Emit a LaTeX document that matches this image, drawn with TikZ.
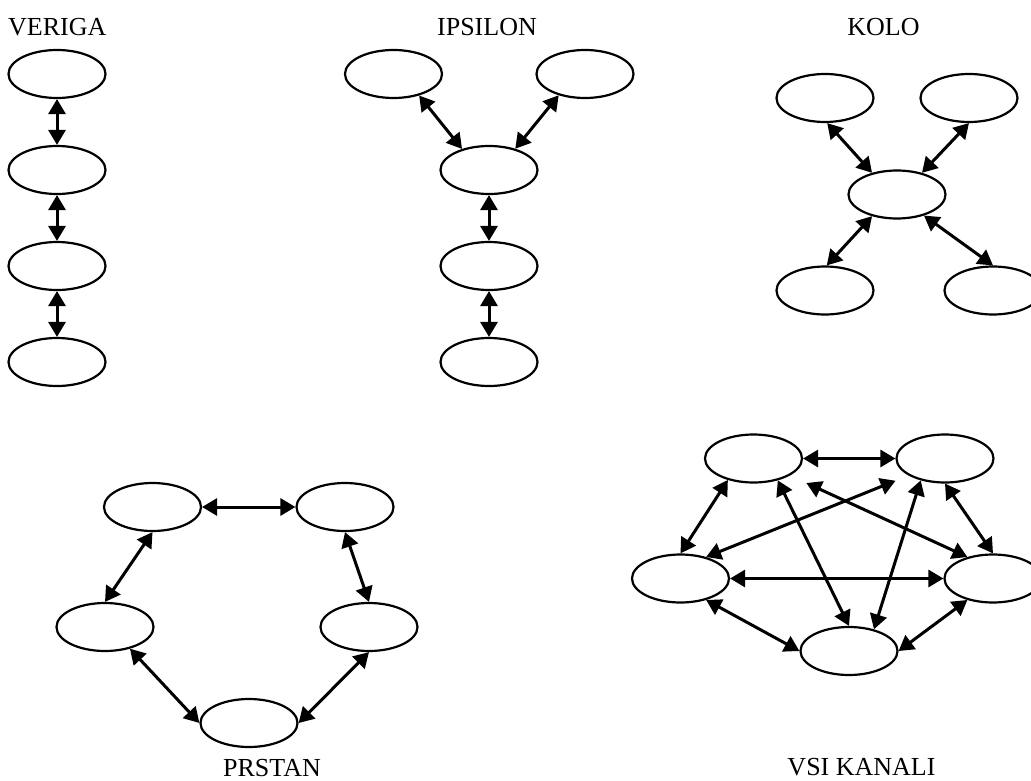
\documentclass[tikz,border=0pt]{standalone}
\usepackage{fontspec}
\setmainfont{Liberation Serif}
\usetikzlibrary{arrows.meta,shapes.geometric}
\tikzset{
  el/.style={draw, line width=2.2pt, ellipse, minimum width=97pt, minimum height=48pt, inner sep=0pt},
  arr/.style={line width=3pt, {Triangle[length=15pt,width=17pt]}-{Triangle[length=15pt,width=17pt]}},
  lbl/.style={inner sep=0pt, font=\fontsize{26}{30}\selectfont}
}
\begin{document}
\begin{tikzpicture}[x=1pt,y=-1pt]
\useasboundingbox (0,0) rectangle (1031,781);
\fill[white] (0,0) rectangle (1031,781);
\clip (0,0) rectangle (1031,781);

% labels
\node[lbl, anchor=base west] (tv) at (8,36) {VERIGA};
\node[lbl, anchor=base] (ti) at (487,36) {IPSILON};
\node[lbl, anchor=base] (tk) at (883.5,36) {KOLO};
\node[lbl, anchor=base] (tp) at (272,776) {PRSTAN};
\node[lbl, anchor=base] (ts) at (861.5,775.5) {VSI KANALI};

% VERIGA
\node[el] (v1) at (57,74) {};
\node[el] (v2) at (57,170) {};
\node[el] (v3) at (57,266) {};
\node[el] (v4) at (57,362) {};
\draw[arr] (v1.south) -- (v2.north);
\draw[arr] (v2.south) -- (v3.north);
\draw[arr] (v3.south) -- (v4.north);

% IPSILON
\node[el] (i1) at (393.5,74) {};
\node[el] (i2) at (585,74) {};
\node[el] (i3) at (489,170) {};
\node[el] (i4) at (489,266) {};
\node[el] (i5) at (489,362) {};
\draw[arr] (i1.320.6) -- (i3.142);
\draw[arr] (i2.219.4) -- (i3.39.4);
\draw[arr] (i3.south) -- (i4.north);
\draw[arr] (i4.south) -- (i5.north);

% KOLO
\node[el] (k1) at (825,98) {};
\node[el] (k2) at (969,98) {};
\node[el] (k3) at (897,194.5) {};
\node[el] (k4) at (825,290.5) {};
\node[el] (k5) at (993,290.5) {};
\draw[arr] (k1.275) -- (k3.139);
\draw[arr] (k2.south) -- (k3.41);
\draw[arr] (k3.221) -- (k4.86);
\draw[arr] (k3.322) -- (k5.north);

% PRSTAN
\node[el] (p1) at (152.5,507) {};
\node[el] (p2) at (345,507) {};
\node[el] (p3) at (105,627) {};
\node[el] (p4) at (369,627) {};
\node[el] (p5) at (249,723) {};
\draw[arr] (p1.east) -- (p2.west);
\draw[arr] (p1.south) -- (p3.north);
\draw[arr] (p2.south) -- (p4.north);
\draw[arr] (p3.319) -- (p5.west);
\draw[arr] (p4.south) -- (p5.east);

% VSI KANALI
\node[el] (s1) at (753.5,458.5) {};
\node[el] (s2) at (945,458.5) {};
\node[el] (s3) at (680.5,578.5) {};
\node[el] (s4) at (993,578.5) {};
\node[el] (s5) at (849,651) {};
\draw[arr] (s1.east) -- (s2.west);
\draw[arr] (s1.220) -- (s3.north);
\draw[arr] (s2.south) -- (s4.north);
\draw[arr] (s3.east) -- (s4.west);
\draw[arr] (s3.320) -- (s5.west);
\draw[arr] (s4.220) -- (s5.east);
\draw[arr] (s1.318) -- (s5.north);
\draw[arr] (s2.222) -- (s5.41);
\draw[arr, shorten <=18pt] (s1.335) -- (s4.140.6);
\draw[arr, shorten <=14pt] (s2.205) -- (s3.40);
\end{tikzpicture}
\end{document}
